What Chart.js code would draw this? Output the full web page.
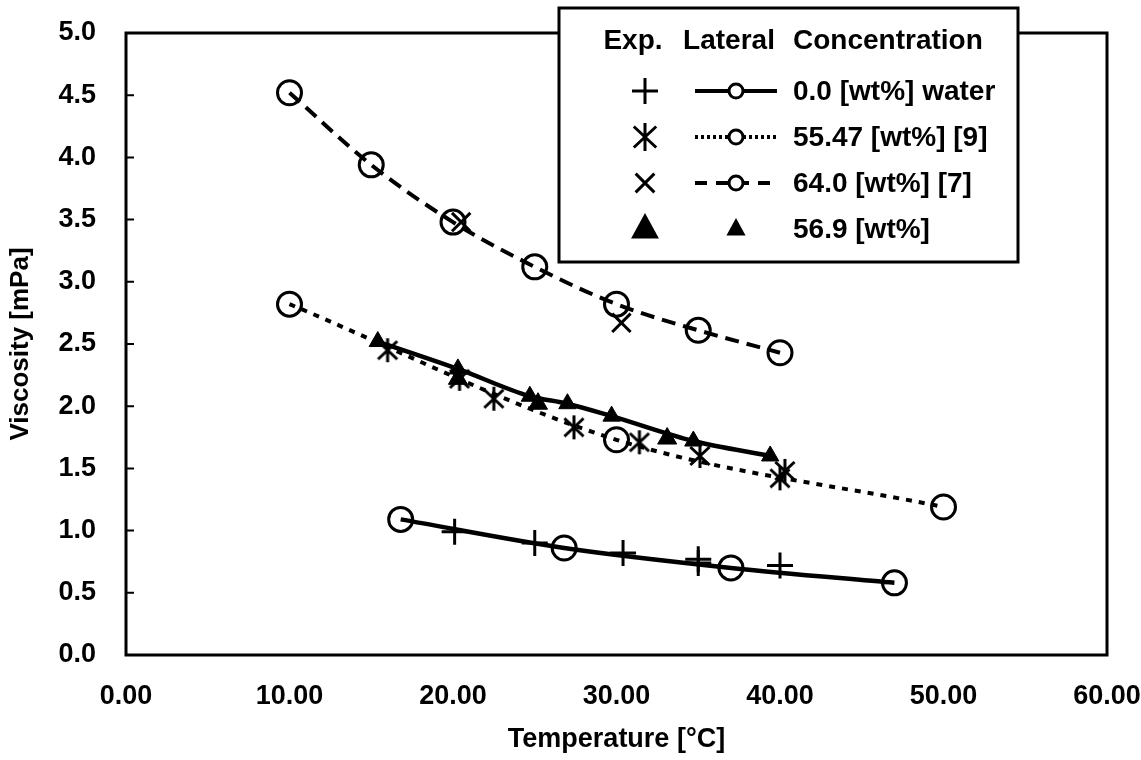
<!DOCTYPE html>
<html>
<head>
<meta charset="utf-8">
<script src="https://cdn.jsdelivr.net/npm/chart.js@4.4.1/dist/chart.umd.min.js"></script>
<style>
  html, body { margin: 0; padding: 0; background: #fff; }
  #wrap { width: 1141px; height: 760px; }
</style>
</head>
<body>
<div id="wrap"><canvas id="myChart"></canvas></div>
<script>
// viscosity vs temperature for four concentrations
const concLabels = ['0.0 [wt%] water', '55.47 [wt%] [9]', '64.0 [wt%] [7]', '56.9 [wt%]'];

// 0.0 wt% (water)
const waterExpT = [20.1, 25.0, 30.4, 35.0, 35.0, 40.0];
const waterExpV = [0.99, 0.90, 0.82, 0.77, 0.74, 0.72];
const waterLatT = [16.8, 26.8, 37.0, 47.0];
const waterLatV = [1.09, 0.86, 0.70, 0.58];

// 55.47 wt%
const c5547ExpT = [16.0, 20.4, 22.5, 27.4, 31.4, 35.1, 40.3, 40.0];
const c5547ExpV = [2.45, 2.22, 2.06, 1.83, 1.71, 1.60, 1.48, 1.42];
const c5547LatT = [10.0, 30.0, 50.0];
const c5547LatV = [2.82, 1.73, 1.19];

// 64.0 wt%
const c640ExpT = [20.5, 30.3];
const c640ExpV = [3.48, 2.67];
const c640LatT = [10.0, 15.0, 20.0, 25.0, 30.0, 35.0, 40.0];
const c640LatV = [4.52, 3.94, 3.48, 3.12, 2.82, 2.61, 2.43];

// 56.9 wt%
const c569ExpT = [20.3, 25.2, 33.1];
const c569ExpV = [2.22, 2.02, 1.74];
const c569LatT = [15.4, 20.3, 24.7, 27.0, 29.7, 34.7, 39.4];
const c569LatV = [2.52, 2.30, 2.08, 2.02, 1.92, 1.72, 1.60];

const xTicks = [0, 10, 20, 30, 40, 50, 60];
const yTicks = [0, 0.5, 1, 1.5, 2, 2.5, 3, 3.5, 4, 4.5, 5];

const FONT = '"Liberation Sans", Arial, Helvetica, sans-serif';

function pts(xs, ys) {
  return xs.map((x, i) => ({ x: x, y: ys[i] }));
}

// X with a vertical bar through it
function asterisk(size, lw) {
  const c = document.createElement('canvas');
  c.width = c.height = size;
  const g = c.getContext('2d');
  const m = size / 2, r = size / 2 - 2;
  g.strokeStyle = '#000';
  g.lineWidth = lw;
  g.beginPath();
  g.moveTo(m, m - r); g.lineTo(m, m + r);
  g.moveTo(m - r * 0.8, m - r * 0.75); g.lineTo(m + r * 0.8, m + r * 0.75);
  g.moveTo(m + r * 0.8, m - r * 0.75); g.lineTo(m - r * 0.8, m + r * 0.75);
  g.stroke();
  return c;
}
const starImg = asterisk(28, 3);
const starImgLegend = asterisk(32, 3);

const expBase = { showLine: false, pointBackgroundColor: '#000', pointBorderColor: '#000', pointBorderWidth: 3 };
const latBase = {
  showLine: true, borderColor: '#000', borderWidth: 4, pointStyle: 'circle', pointRadius: 12,
  pointBorderWidth: 3, pointBorderColor: '#000', pointBackgroundColor: 'rgba(0,0,0,0)',
  cubicInterpolationMode: 'monotone'
};

const datasets = [
  Object.assign({}, expBase, { label: 'water exp', data: pts(waterExpT, waterExpV), pointStyle: 'cross', pointRadius: 13 }),
  Object.assign({}, expBase, { label: '55.47 exp', data: pts(c5547ExpT, c5547ExpV), pointStyle: starImg }),
  Object.assign({}, expBase, { label: '64.0 exp', data: pts(c640ExpT, c640ExpV), pointStyle: 'crossRot', pointRadius: 13 }),
  Object.assign({}, expBase, { label: '56.9 exp', data: pts(c569ExpT, c569ExpV), pointStyle: 'triangle', pointRadius: 11, pointBorderWidth: 1 }),
  Object.assign({}, latBase, { label: 'water lat', data: pts(waterLatT, waterLatV), borderWidth: 4.5 }),
  Object.assign({}, latBase, { label: '55.47 lat', data: pts(c5547LatT, c5547LatV), borderDash: [6, 7] }),
  Object.assign({}, latBase, { label: '64.0 lat', data: pts(c640LatT, c640LatV), borderDash: [14, 8] }),
  Object.assign({}, latBase, {
    label: '56.9 lat', data: pts(c569LatT, c569LatV), pointStyle: 'triangle', pointRadius: 10,
    pointBorderWidth: 1, pointBackgroundColor: '#000', borderWidth: 4.5
  })
];

// frame around the plot plus short inward ticks on the y axis
const frame = {
  id: 'frame',
  beforeDatasetsDraw(chart) {
    const a = chart.chartArea, ctx = chart.ctx, ys = chart.scales.y;
    ctx.save();
    ctx.strokeStyle = '#000';
    ctx.lineWidth = 3;
    ctx.strokeRect(a.left, a.top, a.right - a.left, a.bottom - a.top);
    ctx.lineWidth = 2;
    ctx.beginPath();
    yTicks.forEach(v => {
      const py = ys.getPixelForValue(v);
      ctx.moveTo(a.left, py);
      ctx.lineTo(a.left + 8, py);
    });
    ctx.stroke();
    ctx.restore();
  }
};

function legendMark(ctx, kind, x, y, r) {
  ctx.beginPath();
  if (kind === 'cross') {
    ctx.moveTo(x - r, y); ctx.lineTo(x + r, y);
    ctx.moveTo(x, y - r); ctx.lineTo(x, y + r);
    ctx.stroke();
  } else if (kind === 'crossRot') {
    const d = r * 0.72;
    ctx.moveTo(x - d, y - d); ctx.lineTo(x + d, y + d);
    ctx.moveTo(x + d, y - d); ctx.lineTo(x - d, y + d);
    ctx.stroke();
  } else if (kind === 'triangle') {
    ctx.moveTo(x, y - r);
    ctx.lineTo(x + r * 0.87, y + r * 0.6);
    ctx.lineTo(x - r * 0.87, y + r * 0.6);
    ctx.closePath();
    ctx.fill();
  } else if (kind === 'circle') {
    ctx.arc(x, y, r, 0, Math.PI * 2);
    ctx.fillStyle = '#fff';
    ctx.fill();
    ctx.fillStyle = '#000';
    ctx.stroke();
  } else if (kind === 'star') {
    ctx.drawImage(starImgLegend, x - 16, y - 16);
  }
}

// three-column key: Exp. / Lateral / Concentration
const key = {
  id: 'key',
  afterDraw(chart) {
    const ctx = chart.ctx;
    const bx = 559, by = 8, bw = 459, bh = 254;
    ctx.save();
    ctx.fillStyle = '#fff';
    ctx.fillRect(bx, by, bw, bh);
    ctx.strokeStyle = '#000';
    ctx.lineWidth = 3;
    ctx.strokeRect(bx, by, bw, bh);
    ctx.fillStyle = '#000';
    ctx.font = 'bold 28px ' + FONT;
    ctx.textBaseline = 'middle';
    ctx.textAlign = 'center';
    ctx.fillText('Exp.', 633, 41);
    ctx.fillText('Lateral', 729, 41);
    ctx.textAlign = 'left';
    ctx.fillText('Concentration', 793, 41);

    const expKinds = ['cross', 'star', 'crossRot', 'triangle'];
    const dashes = [[], [3, 3], [12, 9], null];
    concLabels.forEach((lab, i) => {
      const y = 91 + i * 46;
      ctx.lineWidth = 3;
      legendMark(ctx, expKinds[i], 645, y, i === 3 ? 16 : 13);
      if (dashes[i]) {
        ctx.save();
        ctx.lineWidth = 4;
        ctx.setLineDash(dashes[i]);
        ctx.beginPath();
        ctx.moveTo(695, y); ctx.lineTo(777, y);
        ctx.stroke();
        ctx.restore();
        ctx.lineWidth = 3;
        legendMark(ctx, 'circle', 736, y, 7);
      } else {
        legendMark(ctx, 'triangle', 736, y, 11);
      }
      ctx.fillText(lab, 793, y + 1);
    });
    ctx.restore();
  }
};

new Chart(document.getElementById('myChart'), {
  type: 'scatter',
  data: { datasets: datasets },
  options: {
    responsive: true,
    maintainAspectRatio: false,
    animation: false,
    layout: { padding: { left: 0, top: 33, right: 34, bottom: 0 } },
    plugins: { legend: { display: false }, tooltip: { enabled: false } },
    elements: { line: { tension: 0.4 } },
    scales: {
      x: {
        type: 'linear', min: 0, max: 60,
        afterBuildTicks: s => { s.ticks = xTicks.map(v => ({ value: v })); },
        afterFit: s => { s.height = 105; s.paddingLeft = 0; s.paddingRight = 0; },
        grid: { display: false, drawTicks: false },
        border: { display: false },
        ticks: {
          color: '#000', padding: 25, maxRotation: 0,
          font: { family: FONT, size: 27, weight: 'bold' },
          callback: v => v.toFixed(2)
        },
        title: {
          display: true, text: 'Temperature [°C]', color: '#000',
          font: { family: FONT, size: 27, weight: 'bold' },
          padding: { top: 0, bottom: 4 }
        }
      },
      y: {
        type: 'linear', min: 0, max: 5,
        afterBuildTicks: s => { s.ticks = yTicks.map(v => ({ value: v })); },
        afterFit: s => { s.width = 126; s.paddingTop = 0; s.paddingBottom = 0; },
        grid: { display: false, drawTicks: false },
        border: { display: false },
        ticks: {
          color: '#000', padding: 30,
          font: { family: FONT, size: 27, weight: 'bold' },
          callback: v => v.toFixed(1)
        },
        title: {
          display: true, text: 'Viscosity [mPa]', color: '#000',
          font: { family: FONT, size: 26, weight: 'bold' },
          padding: { top: 5, bottom: 0 }
        }
      }
    }
  },
  plugins: [frame, key]
});
</script>
</body>
</html>
